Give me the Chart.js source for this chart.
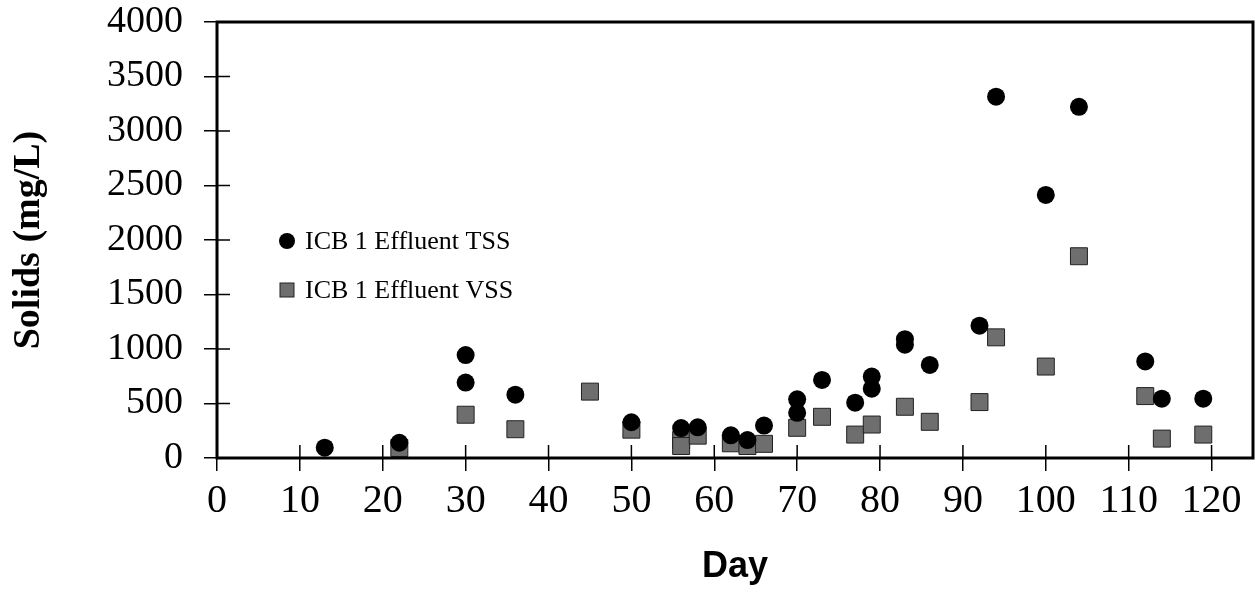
<!DOCTYPE html>
<html>
<head>
<meta charset="utf-8">
<script src="https://cdn.jsdelivr.net/npm/chart.js@4.4.1/dist/chart.umd.min.js"></script>
<style>
  body { margin: 0; background: #fff; }
  canvas { display: block; }
</style>
</head>
<body>
<canvas id="solidsChart" width="1258" height="590"></canvas>
<script>
    // ICB 1 effluent solids
    const tssDays = [13, 22, 30, 30, 36, 50, 56, 58, 62, 64, 66, 70, 70, 73, 77, 79, 79, 83, 83, 86, 92, 94, 100, 104, 112, 114, 119]
    const tssVals = [95, 140, 944, 692, 581, 328, 275, 282, 208, 165, 298, 538, 415, 716, 507, 747, 636, 1090, 1040, 854, 1214, 3315, 2413, 3222, 886, 544, 544]
    const vssDays = [22, 30, 36, 45, 50, 56, 56, 58, 62, 64, 66, 70, 73, 77, 79, 83, 86, 92, 94, 100, 104, 112, 114, 119]
    const vssVals = [92, 397, 264, 609, 260, 165, 110, 205, 135, 110, 130, 277, 378, 215, 307, 470, 332, 513, 1107, 839, 1851, 568, 178, 215]
    const xTicks = [0, 10, 20, 30, 40, 50, 60, 70, 80, 90, 100, 110, 120]
    const yTicks = [0, 500, 1000, 1500, 2000, 2500, 3000, 3500, 4000]
    const seriesNames = ['ICB 1 Effluent TSS', 'ICB 1 Effluent VSS']

    const toPoints = (xs, ys) => xs.map((x, i) => ({ x: x, y: ys[i] }))

    const serif = "'Liberation Serif', 'Times New Roman', serif"
    const sans = "'Liberation Sans', Arial, sans-serif"

    // frame, ticks crossing the axes, and the legend inside the plot
    const framePlugin = {
        id: 'frame',
        afterDraw(chart) {
            const ctx = chart.ctx
            const a = chart.chartArea
            const xs = chart.scales.x
            const ys = chart.scales.y
            ctx.save()
            ctx.strokeStyle = '#000'
            ctx.lineWidth = 1.5
            ctx.beginPath()
            xTicks.forEach(t => {
                const px = xs.getPixelForValue(t)
                ctx.moveTo(px, a.bottom - 13)
                ctx.lineTo(px, a.bottom)
            })
            yTicks.forEach(t => {
                const py = ys.getPixelForValue(t)
                ctx.moveTo(a.left, py)
                ctx.lineTo(a.left + 13, py)
            })
            ctx.stroke()
            ctx.lineWidth = 3
            ctx.strokeRect(a.left, a.top, a.right - a.left, a.bottom - a.top)

            // legend
            const lx = a.left + 70
            const ly = a.top + 219
            ctx.fillStyle = '#000'
            ctx.beginPath()
            ctx.arc(lx, ly, 8, 0, Math.PI * 2)
            ctx.fill()
            ctx.fillStyle = '#6e6e6e'
            ctx.fillRect(lx - 7, ly + 42, 14, 14)
            ctx.strokeStyle = '#222'
            ctx.lineWidth = 1
            ctx.strokeRect(lx - 7, ly + 42, 14, 14)
            ctx.fillStyle = '#000'
            ctx.font = '26px ' + serif
            ctx.textBaseline = 'middle'
            ctx.fillText(seriesNames[0], lx + 18, ly + 1)
            ctx.fillText(seriesNames[1], lx + 18, ly + 50)
            ctx.restore()
        }
    }

    const ctx = document.getElementById('solidsChart').getContext('2d')
    new Chart(ctx, {
        type: 'scatter',
        data: {
            datasets: [{
                label: seriesNames[0],
                data: toPoints(tssDays, tssVals),
                pointStyle: 'circle',
                pointRadius: 9,
                backgroundColor: '#000',
                borderColor: '#000',
                borderWidth: 0
            }, {
                label: seriesNames[1],
                data: toPoints(vssDays, vssVals),
                pointStyle: 'rect',
                pointRadius: 12,
                backgroundColor: '#6e6e6e',
                borderColor: '#222',
                borderWidth: 1
            }]
        },
        options: {
            responsive: false,
            devicePixelRatio: 1,
            animation: false,
            layout: { autoPadding: false, padding: { top: 22, right: 5, left: 0, bottom: 0 } },
            scales: {
                x: {
                    type: 'linear',
                    min: 0,
                    max: 125,
                    afterBuildTicks: s => { s.ticks = xTicks.map(v => ({ value: v })) },
                    afterFit: s => {
                        s.height = 132
                        s.paddingLeft = 0
                        s.paddingRight = 0
                    },
                    ticks: {
                        color: '#000',
                        font: { family: serif, size: 40 },
                        padding: 6,
                        maxRotation: 0,
                        autoSkip: false,
                        callback: v => String(v)
                    },
                    grid: { drawOnChartArea: false, tickLength: 13, color: '#000', lineWidth: 1.5 },
                    border: { display: false },
                    title: {
                        display: true,
                        text: 'Day',
                        color: '#000',
                        font: { family: sans, size: 36, weight: 'bold' },
                        padding: { top: 0, bottom: 1 }
                    }
                },
                y: {
                    min: 0,
                    max: 4000,
                    afterBuildTicks: s => { s.ticks = yTicks.map(v => ({ value: v })) },
                    afterFit: s => {
                        s.width = 217
                        s.paddingTop = 0
                        s.paddingBottom = 0
                    },
                    ticks: {
                        color: '#000',
                        font: { family: serif, size: 38 },
                        padding: 21,
                        callback: v => String(v)
                    },
                    grid: { drawOnChartArea: false, tickLength: 13, color: '#000', lineWidth: 1.5 },
                    border: { display: false },
                    title: {
                        display: true,
                        text: 'Solids (mg/L)',
                        color: '#000',
                        font: { family: serif, size: 38, weight: 'bold' },
                        padding: { top: 6, bottom: 0 }
                    }
                }
            },
            plugins: {
                legend: { display: false },
                tooltip: { enabled: false }
            }
        },
        plugins: [framePlugin]
    })
</script>
</body>
</html>
